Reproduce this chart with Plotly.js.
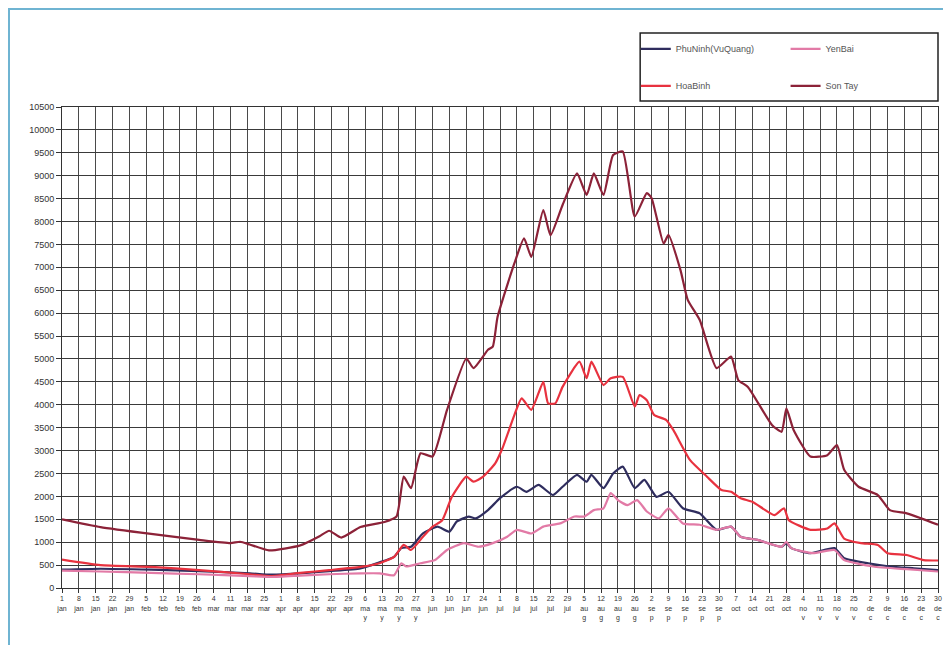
<!DOCTYPE html>
<html>
<head>
<meta charset="utf-8">
<script src="https://cdn.plot.ly/plotly-3.0.1.min.js"></script>
<style>
  html, body { margin: 0; padding: 0; background: #ffffff; }
  #frame { position: absolute; left: 8px; top: 8px; width: 935px; height: 637px;
           border-left: 2px solid #6fb4d2; border-top: 2px solid #6fb4d2; box-sizing: border-box; }
  #chart { position: absolute; left: 0; top: 0; width: 943px; height: 645px; }
</style>
</head>
<body>
<div id="frame"></div>
<div id="chart"></div>
<script>
// Day of year (0 = 1 Jan) and flow values
const daySonTay = [0,16,37,57,70,74,78,86,99,107,111,116,124,134,139,142,145,149,154,160,168,171,177,179,181,188,192,195,200,203,208,214,218,221,225,229,233,238,243,245,250,252,257,260,265,272,278,281,285,295,299,301,304,311,318,322,325,331,339,344,351,357,364];
const sonTay    = [1500,1330,1180,1050,980,1010,950,820,930,1130,1250,1100,1330,1440,1560,2430,2180,2940,2870,3890,5010,4800,5200,5270,5920,7090,7630,7230,8250,7700,8360,9050,8580,9050,8580,9450,9530,8110,8620,8510,7520,7710,6940,6290,5850,4800,5050,4540,4390,3560,3410,3920,3450,2870,2900,3120,2580,2210,2030,1700,1630,1520,1380];

const dayHoaBinh = [0,16,37,57,78,87,99,111,124,132,138,142,145,150,154,158,162,168,171,175,180,183,188,191,195,200,202,205,208,215,218,220,225,228,233,238,240,243,246,251,254,261,268,274,278,282,287,296,300,302,311,318,321,325,332,339,343,351,358,364];
const hoaBinh    = [620,500,460,390,300,260,330,390,460,540,680,940,830,1120,1340,1480,1990,2430,2320,2430,2720,3050,3780,4140,3890,4500,4030,4030,4390,4940,4580,4940,4430,4580,4610,3960,4210,4100,3780,3670,3450,2790,2430,2140,2100,1960,1880,1590,1740,1480,1270,1300,1410,1080,980,940,760,720,610,600];

const dayPhuNinh = [0,16,37,57,78,87,99,111,124,132,138,141,145,150,156,161,164,169,172,177,182,189,193,198,204,208,214,218,220,225,229,233,238,242,247,252,258,265,272,278,282,289,299,301,303,311,321,325,335,344,354,364];
const phuNinh    = [400,420,400,370,320,290,320,370,430,560,680,870,900,1190,1340,1230,1450,1560,1520,1700,1960,2210,2100,2250,2030,2210,2470,2320,2470,2180,2500,2650,2180,2360,1990,2100,1740,1630,1270,1340,1120,1050,900,980,870,760,870,650,540,470,430,390];

const dayYenBai = [0,16,37,57,78,87,99,111,124,132,138,141,143,149,155,160,167,173,179,185,189,195,200,207,213,217,221,225,228,231,235,239,243,248,252,258,265,272,278,282,289,299,301,303,312,321,325,337,351,364];
const yenBai    = [380,360,330,300,260,240,270,300,320,320,280,540,470,540,610,830,980,900,980,1120,1270,1190,1340,1410,1560,1560,1700,1740,2070,1920,1810,1920,1670,1520,1740,1410,1380,1270,1340,1120,1050,900,1010,870,760,830,610,470,410,360];

// Weekly tick labels (leap year, starting 1 Jan)
const tickDayNums = [1,8,15,22,29, 5,12,19,26, 4,11,18,25, 1,8,15,22,29, 6,13,20,27, 3,10,17,24, 1,8,15,22,29, 5,12,19,26, 2,9,16,23,30, 7,14,21,28, 4,11,18,25, 2,9,16,23,30];
const tickMonths  = ["jan","jan","jan","jan","jan","feb","feb","feb","feb","mar","mar","mar","mar","apr","apr","apr","apr","apr","ma<br>y","ma<br>y","ma<br>y","ma<br>y","jun","jun","jun","jun","jul","jul","jul","jul","jul","au<br>g","au<br>g","au<br>g","au<br>g","se<br>p","se<br>p","se<br>p","se<br>p","se<br>p","oct","oct","oct","oct","no<br>v","no<br>v","no<br>v","no<br>v","de<br>c","de<br>c","de<br>c","de<br>c","de<br>c"];

const tickVals = tickDayNums.map((d, i) => i * 7);
const tickText = tickDayNums.map((d, i) => d + "<br>" + tickMonths[i]);

const yTicks = [];
for (let v = 0; v <= 10500; v += 500) yTicks.push(v);
const yTickText = yTicks.map(v => String(v));

function tr(name, x, y, color, legend) {
  return { type: 'scatter', mode: 'lines', name: name, x: x, y: y,
           legend: legend, legendgroup: name,
           line: { color: color, width: 2.2, shape: 'spline', smoothing: 0.5 } };
}

const data = [
  tr('PhuNinh(VuQuang)', dayPhuNinh, phuNinh, '#2f2d5e', 'legend'),
  tr('HoaBinh', dayHoaBinh, hoaBinh, '#e8323f', 'legend'),
  tr('YenBai', dayYenBai, yenBai, '#e27aa6', 'legend2'),
  tr('Son Tay', daySonTay, sonTay, '#8c2238', 'legend2')
];

const legendCommon = {
  orientation: 'v', yanchor: 'top', y: 1.151, xanchor: 'left',
  bgcolor: 'rgba(0,0,0,0)', borderwidth: 0,
  tracegroupgap: 18, itemwidth: 30,
  font: { size: 9, color: '#555555', family: 'Arial, Liberation Sans, sans-serif' }
};

const layout = {
  width: 943, height: 645,
  margin: { l: 62, r: 5, t: 107, b: 57 },
  paper_bgcolor: 'rgba(0,0,0,0)',
  plot_bgcolor: '#ffffff',
  font: { family: 'Arial, Liberation Sans, sans-serif', color: '#333333' },
  showlegend: true,
  legend: Object.assign({}, legendCommon, { x: 0.655 }),
  legend2: Object.assign({}, legendCommon, { x: 0.826 }),
  shapes: [{
    type: 'rect', xref: 'paper', yref: 'paper', layer: 'below',
    x0: 0.66, x1: 1.0, y0: 1.0125, y1: 1.154,
    line: { color: '#222222', width: 1.5 }, fillcolor: '#ffffff'
  }],
  xaxis: {
    range: [0, 364], tickmode: 'array', tickvals: tickVals, ticktext: tickText,
    tickangle: 0, tickfont: { size: 7, color: '#333' },
    showgrid: true, gridcolor: '#4a4a4a', gridwidth: 1,
    ticks: 'outside', ticklen: 4, tickcolor: '#333',
    showline: true, linecolor: '#333', linewidth: 1, mirror: true, zeroline: false
  },
  yaxis: {
    range: [0, 10500], tickmode: 'array', tickvals: yTicks, ticktext: yTickText,
    tickfont: { size: 9, color: '#333' },
    showgrid: true, gridcolor: '#3a3a3a', gridwidth: 1,
    ticks: 'outside', ticklen: 5, tickcolor: '#333',
    showline: true, linecolor: '#333', linewidth: 1, mirror: true, zeroline: false
  }
};

Plotly.newPlot('chart', data, layout, { displayModeBar: false, staticPlot: true });
</script>
</body>
</html>
